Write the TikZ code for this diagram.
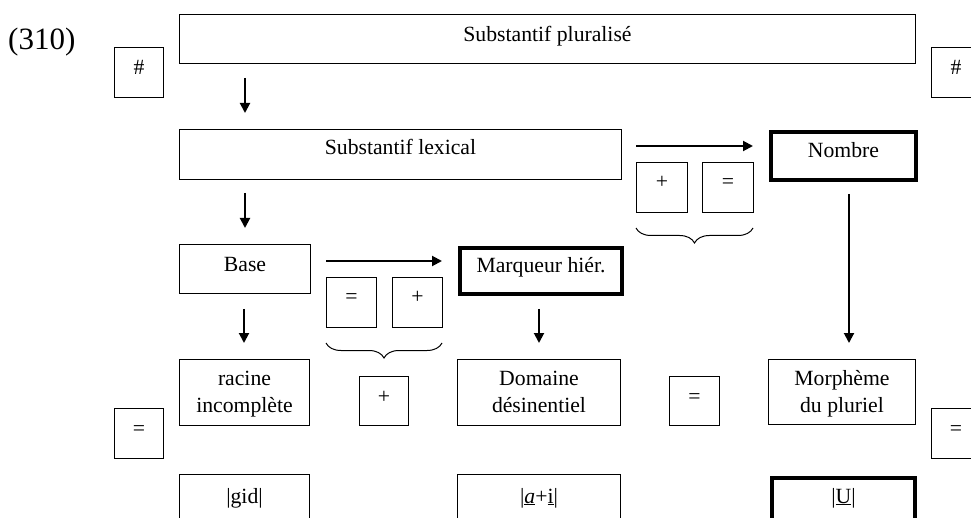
\documentclass[tikz,border=0pt]{standalone}
\usepackage{fontspec}
\setmainfont{Liberation Serif}
\usetikzlibrary{arrows.meta,decorations.pathreplacing}
\begin{document}
\begin{tikzpicture}[x=1pt,y=-1pt,
  box/.style={draw, line width=1pt, inner sep=0pt, anchor=north west},
  heavy/.style={line width=4pt},
  txt/.style={anchor=base, inner sep=0pt, font=\fontsize{21.7}{27}\selectfont, align=center},
  arr/.style={line width=2pt, -{Triangle[length=10pt,width=10pt]}},
  brc/.style={decorate, decoration={brace, mirror, amplitude=15pt}, line width=1pt}]
\useasboundingbox (0,0) rectangle (971,518);
\clip (0,0) rectangle (971,518);

\node[anchor=base west, inner sep=0pt, font=\fontsize{31}{31}\selectfont] (num) at (8,50) {(310)};

% boxes
\node[box, minimum width=49pt, minimum height=50pt] (hashL) at (114,47) {};
\node[box, minimum width=736pt, minimum height=49pt] (top) at (179,14) {};
\node[box, minimum width=49pt, minimum height=50pt] (hashR) at (931,47) {};
\node[box, minimum width=442pt, minimum height=50pt] (lex) at (179,129) {};
\node[box, minimum width=51pt, minimum height=50pt] (plusA) at (636,162) {};
\node[box, minimum width=51pt, minimum height=50pt] (eqA) at (702,162) {};
\node[box, heavy, minimum width=145pt, minimum height=48pt] (nombre) at (769,130) {};
\node[box, minimum width=131pt, minimum height=49pt] (base) at (179,244) {};
\node[box, minimum width=50pt, minimum height=50pt] (eqB) at (326,277) {};
\node[box, minimum width=50pt, minimum height=50pt] (plusB) at (392,277) {};
\node[box, heavy, minimum width=162pt, minimum height=46pt] (marq) at (458,246) {};
\node[box, minimum width=130pt, minimum height=66pt] (racine) at (179,359) {};
\node[box, minimum width=49pt, minimum height=49pt] (plusC) at (359,376) {};
\node[box, minimum width=163pt, minimum height=66pt] (domaine) at (457,359) {};
\node[box, minimum width=50pt, minimum height=49pt] (eqC) at (669,376) {};
\node[box, minimum width=147pt, minimum height=65pt] (morph) at (768,359) {};
\node[box, minimum width=49pt, minimum height=50pt] (eqL) at (114,408) {};
\node[box, minimum width=49pt, minimum height=50pt] (eqR) at (931,408) {};
\node[box, minimum width=130pt, minimum height=60pt] (gid) at (179,474) {};
\node[box, minimum width=163pt, minimum height=60pt] (ai) at (457,474) {};
\node[box, heavy, minimum width=143pt, minimum height=60pt] (uu) at (770,476) {};

% texts
\node[txt] (thashL) at ([yshift=-28pt]hashL.north) {\#};
\node[txt] (ttop) at ([yshift=-28pt]top.north) {Substantif pluralisé};
\node[txt] (thashR) at ([yshift=-28pt]hashR.north) {\#};
\node[txt] (tlex) at ([yshift=-26pt]lex.north) {Substantif lexical};
\node[txt] (tplusA) at ([yshift=-27pt]plusA.north) {+};
\node[txt] (teqA) at ([yshift=-27pt]eqA.north) {=};
\node[txt] (tnombre) at ([yshift=-28pt]nombre.north) {Nombre};
\node[txt] (tbase) at ([yshift=-28pt]base.north) {Base};
\node[txt] (teqB) at ([yshift=-27pt]eqB.north) {=};
\node[txt] (tplusB) at ([yshift=-27pt]plusB.north) {+};
\node[txt] (tmarq) at ([yshift=-27pt]marq.north) {Marqueur hiér.};
\node[txt] (tracine) at ([yshift=-53pt]racine.north) {racine\\incomplète};
\node[txt] (tplusC) at ([yshift=-27pt]plusC.north) {+};
\node[txt] (tdomaine) at ([yshift=-53pt]domaine.north) {Domaine\\désinentiel};
\node[txt] (teqC) at ([yshift=-27pt]eqC.north) {=};
\node[txt] (tmorph) at ([yshift=-53pt]morph.north) {Morphème\\du pluriel};
\node[txt] (teqL) at ([yshift=-27pt]eqL.north) {=};
\node[txt] (teqR) at ([yshift=-27pt]eqR.north) {=};
\node[txt] (tgid) at ([yshift=-29pt]gid.north) {|gid|};
\node[txt] (tai) at ([yshift=-29pt]ai.north) {|\underline{\textit{a}}+\underline{i}|};
\node[txt] (tuu) at ([yshift=-27pt]uu.north) {|\underline{U}|};

% arrows
\coordinate (a1s) at (245,78);  \coordinate (a1e) at (245,113);
\coordinate (a2s) at (245,193); \coordinate (a2e) at (245,228);
\coordinate (a3s) at (636,146); \coordinate (a3e) at (753,146);
\coordinate (a4s) at (849,194); \coordinate (a4e) at (849,343);
\coordinate (a5s) at (326,261); \coordinate (a5e) at (442,261);
\coordinate (a6s) at (244,309); \coordinate (a6e) at (244,343);
\coordinate (a7s) at (539,309); \coordinate (a7e) at (539,343);
\draw[arr] (a1s) -- (a1e);
\draw[arr] (a2s) -- (a2e);
\draw[arr] (a3s) -- (a3e);
\draw[arr] (a4s) -- (a4e);
\draw[arr] (a5s) -- (a5e);
\draw[arr] (a6s) -- (a6e);
\draw[arr] (a7s) -- (a7e);

% braces
\coordinate (b1s) at (636,228); \coordinate (b1e) at (753,228);
\coordinate (b2s) at (326,343); \coordinate (b2e) at (442,343);
\draw[brc] (b1s) -- (b1e);
\draw[brc] (b2s) -- (b2e);
\end{tikzpicture}
\end{document}
